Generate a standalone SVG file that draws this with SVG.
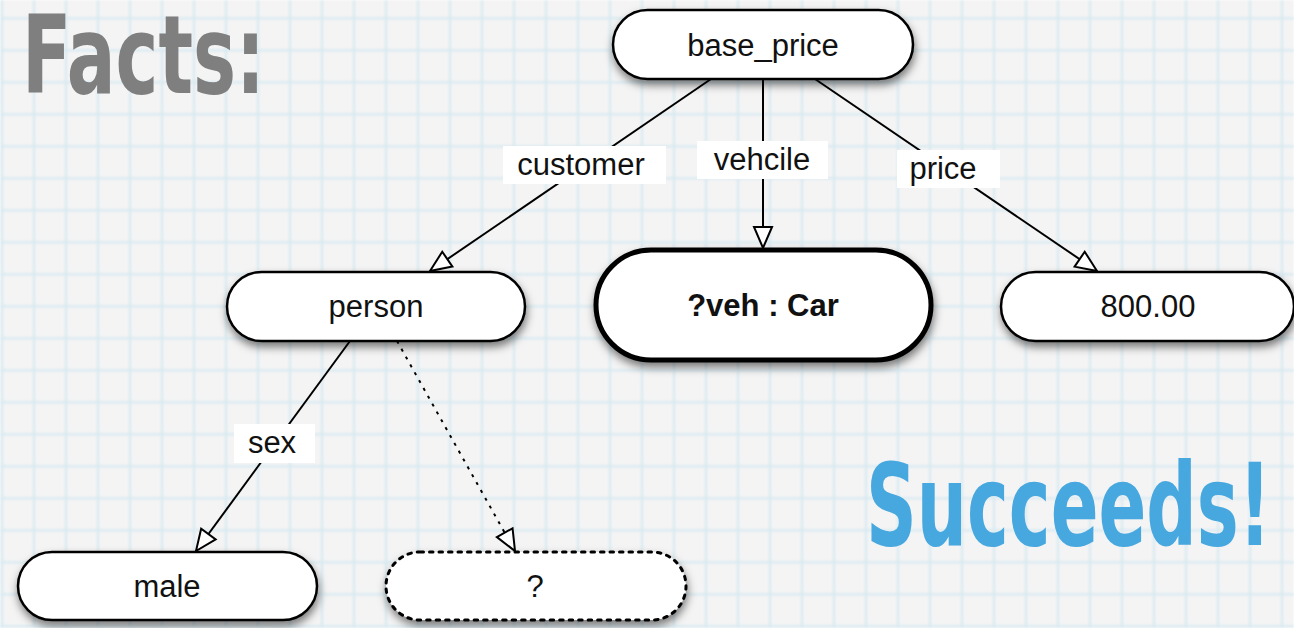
<svg xmlns="http://www.w3.org/2000/svg" width="1294" height="628" viewBox="0 0 1294 628">
  <defs>
    <!-- graph-paper background -->
    <pattern id="grid" patternUnits="userSpaceOnUse" x="-14" y="2.3" width="32" height="32">
      <rect width="32" height="32" fill="#f4f4f4"/>
      <line x1="16" y1="0" x2="16" y2="32" stroke="#d9eaf2" stroke-width="2.4"/>
      <line x1="0" y1="16" x2="32" y2="16" stroke="#d9eaf2" stroke-width="2.4"/>
    </pattern>
    <filter id="soft" x="-5%" y="-5%" width="110%" height="110%">
      <feGaussianBlur stdDeviation="0.9"/>
    </filter>
    <filter id="shadow" x="-10%" y="-20%" width="120%" height="160%">
      <feDropShadow dx="1" dy="5" stdDeviation="4" flood-color="#000" flood-opacity="0.5"/>
    </filter>
    <marker id="open-arrow" markerUnits="userSpaceOnUse" viewBox="-2 -2 26 22" markerWidth="26" markerHeight="22" refX="21" refY="9" orient="auto">
      <path d="M0,0 L21,9 L0,18 Z" fill="#ffffff" stroke="#000" stroke-width="2" stroke-linejoin="miter"/>
    </marker>
    <style>
      .node { fill: #ffffff; stroke: #000; stroke-width: 2.5; filter: url(#shadow); }
      .node-bold { fill: #ffffff; stroke: #000; stroke-width: 5; filter: url(#shadow); }
      .node-open { fill: #ffffff; stroke: #000; stroke-width: 3; stroke-dasharray: 3.5 6; stroke-linecap: round; filter: url(#shadow); }
      .label { font-family: "Liberation Sans", Arial, sans-serif; font-size: 31px; fill: #111; text-anchor: middle; dominant-baseline: central; }
      .label-bold { font-weight: bold; }
      .edge { stroke: #000; stroke-width: 2; fill: none; marker-end: url(#open-arrow); }
      .edge-dotted { stroke-dasharray: 3 6; }
      .tag { fill: #ffffff; }
      .title { font-family: "DejaVu Sans Condensed", "Liberation Sans Narrow", "Liberation Sans", sans-serif; font-weight: bold; font-size: 80px; }
    </style>
  </defs>

  <rect width="1294" height="628" fill="url(#grid)" filter="url(#soft)"/>

  <!-- headings: tall, narrow lettering -->
  <text class="title" transform="translate(22,93) scale(1,1.36)" x="0" y="0" fill="#7f7f7f" textLength="243" lengthAdjust="spacingAndGlyphs">Facts:</text>
  <text class="title" transform="translate(866,545) scale(1,1.42)" x="0" y="0" fill="#47a7df" textLength="405" lengthAdjust="spacingAndGlyphs">Succeeds!</text>

  <!-- connectors -->
  <g id="connectors">
    <line class="edge" x1="711" y1="79" x2="430" y2="271"/>
    <line class="edge" x1="763" y1="79" x2="763" y2="248"/>
    <line class="edge" x1="815" y1="79" x2="1097" y2="271"/>
    <line class="edge" x1="350" y1="341" x2="196" y2="551"/>
    <line class="edge edge-dotted" x1="397" y1="341" x2="515" y2="551"/>

    <rect class="tag" x="503" y="146" width="163" height="38"/>
    <text class="label" x="581" y="164">customer</text>
    <rect class="tag" x="697" y="141" width="131" height="38"/>
    <text class="label" x="762" y="159">vehcile</text>
    <rect class="tag" x="897" y="150" width="103" height="38"/>
    <text class="label" x="943" y="168">price</text>
    <rect class="tag" x="234" y="424" width="81" height="39"/>
    <text class="label" x="272" y="442">sex</text>
  </g>

  <g id="node-base-price">
    <rect class="node" x="613" y="10" width="300" height="69" rx="34.5"/>
    <text class="label" x="763" y="45">base_price</text>
  </g>

  <g id="node-person">
    <rect class="node" x="227" y="272" width="298" height="69" rx="34.5"/>
    <text class="label" x="376" y="306">person</text>
  </g>

  <g id="node-vehicle">
    <rect class="node-bold" x="596" y="250" width="335" height="110" rx="55"/>
    <text class="label label-bold" x="763" y="305">?veh : Car</text>
  </g>

  <g id="node-price">
    <rect class="node" x="1001" y="272" width="293" height="69" rx="34.5"/>
    <text class="label" x="1148" y="306">800.00</text>
  </g>

  <g id="node-male">
    <rect class="node" x="18" y="552" width="299" height="68" rx="34"/>
    <text class="label" x="167" y="586">male</text>
  </g>

  <g id="node-unknown">
    <rect class="node-open" x="386" y="552" width="300" height="68" rx="34"/>
    <text class="label" x="535" y="586">?</text>
  </g>
</svg>
